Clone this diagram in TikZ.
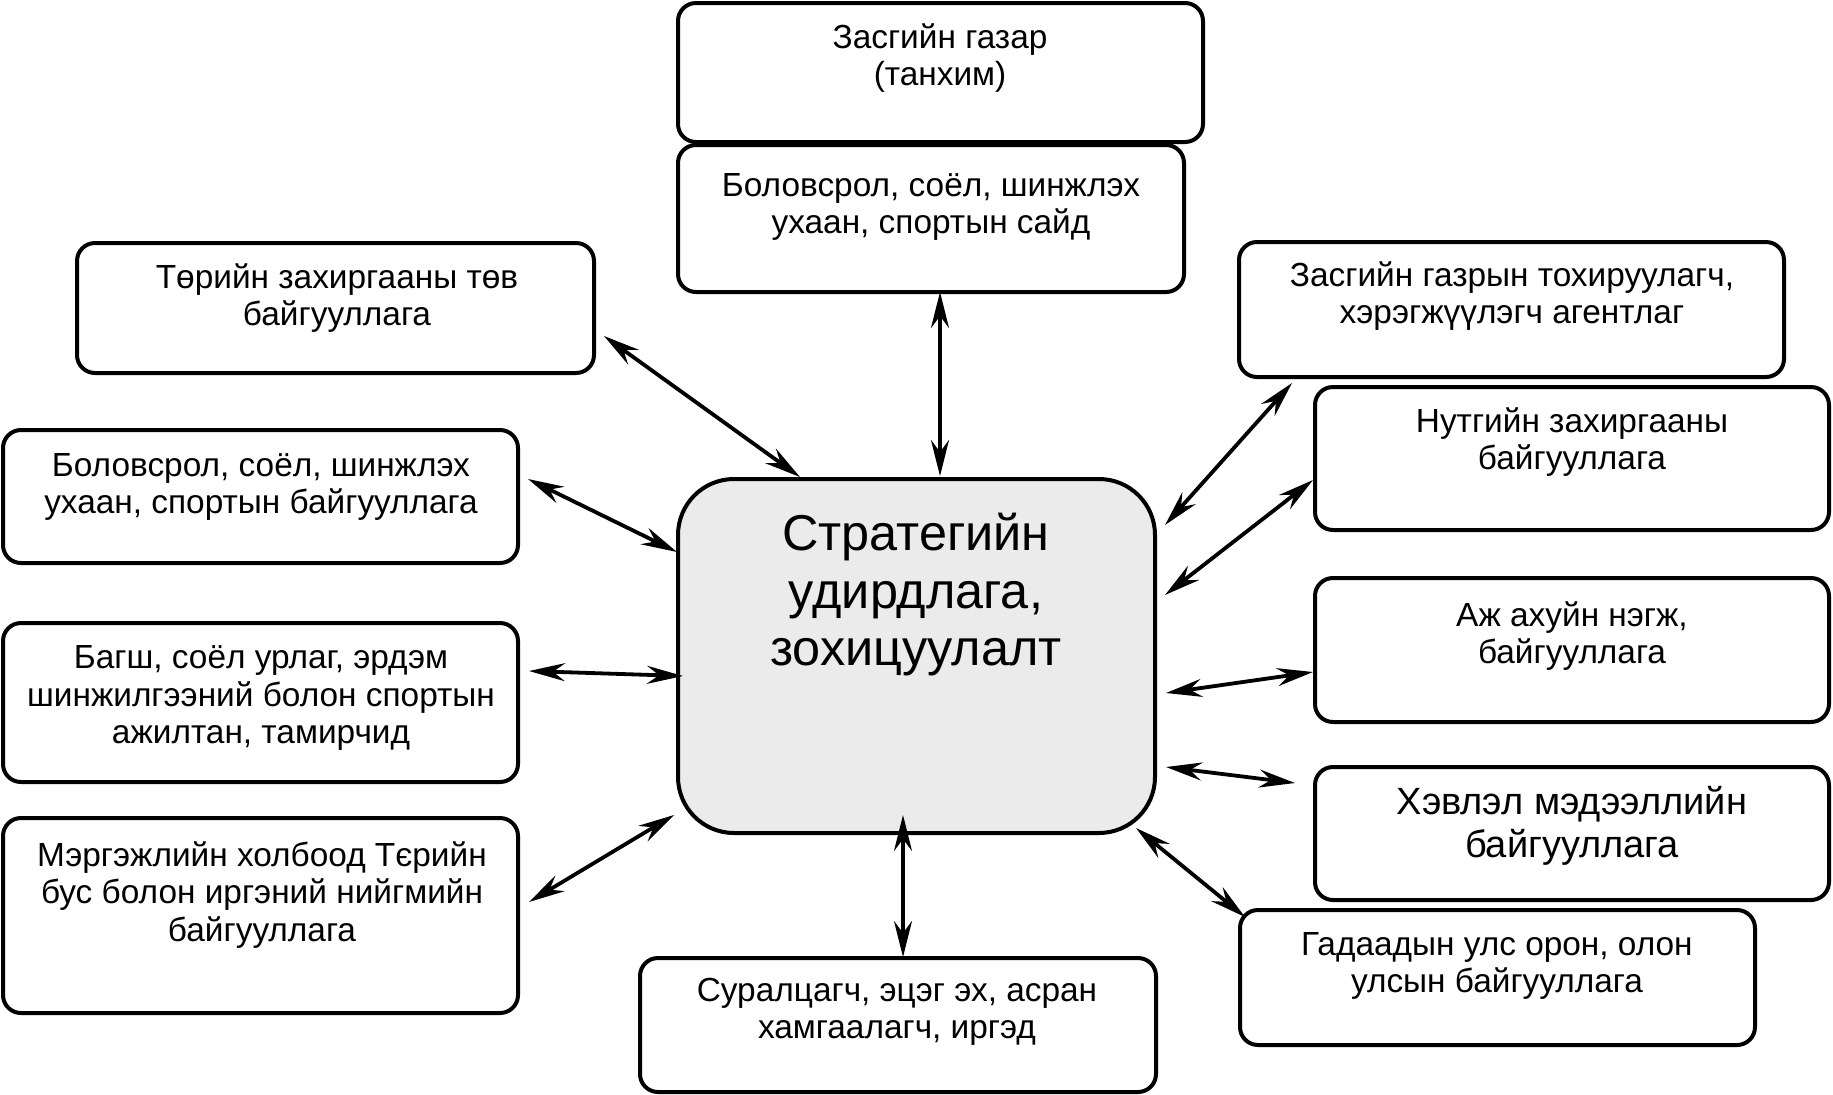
\documentclass[tikz,border=0pt]{standalone}
\usepackage{fontspec}
\setmainfont{Liberation Sans}
\usetikzlibrary{arrows.meta,fit}
\definecolor{hubgray}{HTML}{EBEBEB}
\begin{document}
\begin{tikzpicture}[x=0.5pt,y=-0.5pt,
  box/.style={draw, line width=2pt, rounded corners=9pt, fill=white, inner sep=0pt},
  hub/.style={draw, line width=2pt, rounded corners=28pt, fill=hubgray, inner sep=0pt},
  txt/.style={align=center, font=\fontsize{16.7}{18.75}\selectfont, inner sep=0pt},
  bigtxt/.style={align=center, font=\fontsize{25.2}{28.75}\selectfont, inner sep=0pt},
  medtxt/.style={align=center, font=\fontsize{19}{21.5}\selectfont, inner sep=0pt},
  tipshape/.tip={Stealth[length=18pt,width=9pt,inset=6pt]},
  arr/.style={line width=1.9pt, tipshape-tipshape}]
\useasboundingbox (0,0) rectangle (1833,1094);

% boxes
\node[box, fit={(678,3) (1203,142)}] (b1) {};
\node[box, fit={(678,145) (1184,292)}] (b2) {};
\node[box, fit={(77,243) (594,373)}] (b3) {};
\node[box, fit={(1239,242) (1784,377)}] (b4) {};
\node[box, fit={(1315,387) (1829,530)}] (b5) {};
\node[box, fit={(3,430) (518,563)}] (b6) {};
\node[hub, fit={(678,479) (1155,833)}] (hub) {};
\node[box, fit={(1315,578) (1829,722)}] (b8) {};
\node[box, fit={(3,623) (518,782)}] (b9) {};
\node[box, fit={(1315,767) (1829,900)}] (b10) {};
\node[box, fit={(3,818) (518,1013)}] (b11) {};
\node[box, fit={(1240,910) (1755,1045)}] (b12) {};
\node[box, fit={(640,958) (1156,1092)}] (b13) {};

% texts
\node[txt] (t1) at (940,58) {Засгийн газар\\(танхим)};
\node[txt] (t2) at (931,207) {Боловсрол, соёл, шинжлэх\\ухаан, спортын сайд};
\node[txt] (t3) at (337,298) {Төрийн захиргааны төв\\байгууллага};
\node[txt] (t4) at (1512,296) {Засгийн газрын тохируулагч,\\хэрэгжүүлэгч агентлаг};
\node[txt] (t5) at (1572,442) {Нутгийн захиргааны\\байгууллага};
\node[txt] (t6) at (261,487) {Боловсрол, соёл, шинжлэх\\ухаан, спортын байгууллага};
\node[bigtxt] (tc) at (916,595) {Стратегийн\\удирдлага,\\зохицуулалт};
\node[txt] (t8) at (1572,636) {Аж ахуйн нэгж,\\байгууллага};
\node[txt] (t9) at (261,698) {Багш, соёл урлаг, эрдэм\\шинжилгээний болон спортын\\ажилтан, тамирчид};
\node[medtxt] (t10) at (1572,826) {Хэвлэл мэдээллийн\\байгууллага};
\node[txt] (t11) at (262,895) {Мэргэжлийн холбоод Тєрийн\\бус болон иргэний нийгмийн\\байгууллага};
\node[txt] (t12) at (1497,966) {Гадаадын улс орон, олон\\улсын байгууллага};
\node[txt] (t13) at (897,1012) {Суралцагч, эцэг эх, асран\\хамгаалагч, иргэд};

% connector ends
\coordinate (a2s) at (940,292);  \coordinate (a2e) at (940,476);
\coordinate (a3s) at (604,336);  \coordinate (a3e) at (800,477);
\coordinate (a6s) at (528,479);  \coordinate (a6e) at (677,552);
\coordinate (a9s) at (529,671);  \coordinate (a9e) at (683,676);
\coordinate (a11s) at (529,902); \coordinate (a11e) at (674,815);
\coordinate (a13s) at (903,957); \coordinate (a13e) at (903,815);
\coordinate (a4s) at (1292,383); \coordinate (a4e) at (1165,525);
\coordinate (a5s) at (1313,480); \coordinate (a5e) at (1165,595);
\coordinate (a8s) at (1313,672); \coordinate (a8e) at (1166,693);
\coordinate (a10s) at (1295,783); \coordinate (a10e) at (1166,767);
\coordinate (a12s) at (1245,917); \coordinate (a12e) at (1136,828);

\draw[arr] (a2s) -- (a2e);
\draw[arr] (a3s) -- (a3e);
\draw[arr] (a6s) -- (a6e);
\draw[arr] (a9s) -- (a9e);
\draw[arr] (a11s) -- (a11e);
\draw[arr] (a13s) -- (a13e);
\draw[arr] (a4s) -- (a4e);
\draw[arr] (a5s) -- (a5e);
\draw[arr] (a8s) -- (a8e);
\draw[arr] (a10s) -- (a10e);
\draw[arr] (a12s) -- (a12e);
\end{tikzpicture}
\end{document}
